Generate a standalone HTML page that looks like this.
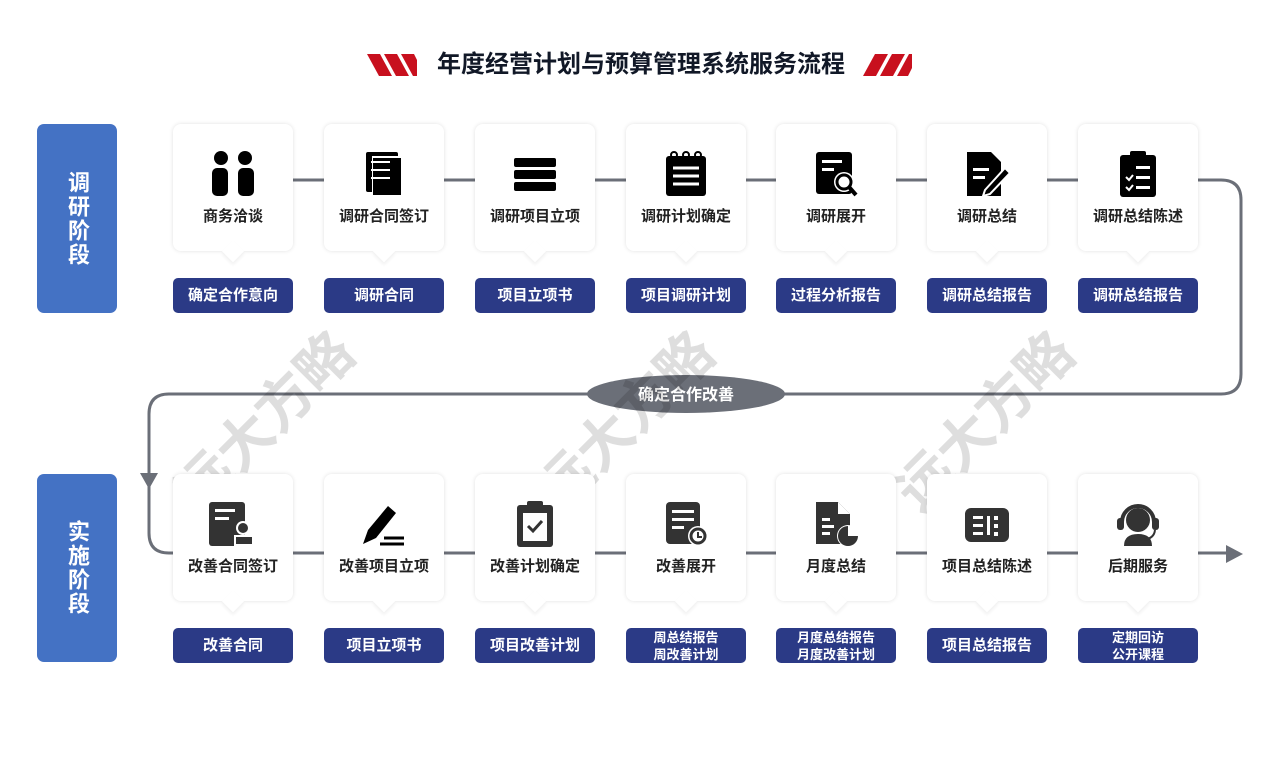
<!DOCTYPE html>
<html><head><meta charset="utf-8"><style>
*{margin:0;padding:0;box-sizing:border-box}
body{width:1280px;height:765px;background:#fff;position:relative;overflow:hidden;font-family:"Liberation Sans","Noto Sans CJK SC",sans-serif}
.abs{position:absolute}
.title{left:0;width:1280px;top:49px;text-align:center;font-size:24px;font-weight:bold;color:#111827;line-height:32px;padding-left:2px}
.stage{left:37px;width:80px;background:#4472c4;border-radius:7px;color:#fff;font-size:22px;font-weight:bold;display:flex;align-items:center;justify-content:center;writing-mode:vertical-rl;letter-spacing:2px}
.card{width:120px;height:127px;background:#fff;border-radius:8px;box-shadow:0 0 4px rgba(0,0,0,0.12)}
.card .lbl{position:absolute;left:0;right:0;top:81px;text-align:center;font-size:15px;font-weight:bold;color:#222}
.card .tip{position:absolute;left:52px;bottom:-8px;width:16px;height:16px;background:#fff;transform:rotate(45deg);box-shadow:2px 2px 3px rgba(0,0,0,0.06)}
.card svg{position:absolute;left:36px;top:26px}
.badge{width:120px;height:35px;background:#2b3a86;border-radius:5px;color:#fff;font-weight:bold;font-size:15px;display:flex;align-items:center;justify-content:center;text-align:center;line-height:17px}
.badge.sm{font-size:13px;line-height:17px}
.wm{font-size:56px;font-weight:bold;color:rgba(0,0,0,0.13);transform:rotate(-45deg);white-space:nowrap}
</style></head><body>

<svg class="abs" style="left:0;top:0" width="1280" height="765">
 <polygon points="367,54 380,54 392,76 379,76" fill="#c8101e"/>
 <polygon points="384,54 397,54 409,76 396,76" fill="#c8101e"/>
 <polygon points="401,54 414,54 417,60 417,76 413,76" fill="#c8101e"/>
 <polygon points="863,76 876,76 888,54 875,54" fill="#c8101e"/>
 <polygon points="880,76 893,76 905,54 892,54" fill="#c8101e"/>
 <polygon points="897,76 908,76 912,68 912,54 909,54" fill="#c8101e"/>
 <g stroke="#6b6f78" stroke-width="3" fill="none">
  <line x1="293" y1="180" x2="1198" y2="180"/>
  <path d="M1198,180 H1221 Q1241,180 1241,200 V374 Q1241,394 1221,394 H169 Q149,394 149,414 V533 Q149,553 169,553 H1230"/>
 </g>
 <polygon points="140,473 158,473 149,489" fill="#6b6f78"/>
 <polygon points="1226,545 1243,554 1226,563" fill="#6b6f78"/>
 <ellipse cx="686" cy="394" rx="99" ry="19" fill="#6b6f78"/>
 <text x="686" y="400" text-anchor="middle" font-size="16" font-weight="bold" fill="#fff" font-family="Liberation Sans,Noto Sans CJK SC,sans-serif">确定合作改善</text>
</svg>

<div class="abs title">年度经营计划与预算管理系统服务流程</div>
<div class="abs stage" style="top:124px;height:189px">调研阶段</div>
<div class="abs stage" style="top:474px;height:188px">实施阶段</div>

<div class="abs wm" style="left:150px;top:378px">远大方略</div>
<div class="abs wm" style="left:510px;top:378px">远大方略</div>
<div class="abs wm" style="left:870px;top:378px">远大方略</div>

<!-- top row -->
<div class="abs card" style="left:173px;top:124px"><svg width="48" height="48"><circle cx="12" cy="8" r="7"/><circle cx="36" cy="8" r="7"/><rect x="3" y="18" width="16" height="28" rx="5"/><rect x="29" y="18" width="16" height="28" rx="5"/></svg><div class="lbl">商务洽谈</div><div class="tip"></div></div>
<div class="abs card" style="left:324px;top:124px"><svg width="48" height="48"><rect x="6" y="2" width="32" height="40" rx="2"/><rect x="12" y="6" width="30" height="40" fill="#fff"/><rect x="13" y="8" width="28" height="37"/><g stroke="#fff" stroke-width="2"><line x1="11" y1="12" x2="30" y2="12"/><line x1="11" y1="20" x2="30" y2="20"/><line x1="11" y1="28" x2="30" y2="28"/></g></svg><div class="lbl">调研合同签订</div><div class="tip"></div></div>
<div class="abs card" style="left:475px;top:124px"><svg width="48" height="48"><rect x="3" y="8" width="42" height="9" rx="2"/><rect x="3" y="20" width="42" height="9" rx="2"/><rect x="3" y="32" width="42" height="9" rx="2"/></svg><div class="lbl">调研项目立项</div><div class="tip"></div></div>
<div class="abs card" style="left:626px;top:124px"><svg width="48" height="48"><rect x="4" y="6" width="40" height="40" rx="3"/><g stroke="#fff" stroke-width="3"><line x1="11" y1="18" x2="37" y2="18"/><line x1="11" y1="26" x2="37" y2="26"/><line x1="11" y1="34" x2="37" y2="34"/></g><circle cx="12" cy="5" r="3" fill="none" stroke="#000" stroke-width="2"/><circle cx="24" cy="5" r="3" fill="none" stroke="#000" stroke-width="2"/><circle cx="36" cy="5" r="3" fill="none" stroke="#000" stroke-width="2"/></svg><div class="lbl">调研计划确定</div><div class="tip"></div></div>
<div class="abs card" style="left:776px;top:124px"><svg width="48" height="48"><rect x="4" y="2" width="36" height="42" rx="3"/><circle cx="32" cy="32" r="10" fill="#fff"/><circle cx="32" cy="32" r="7" fill="none" stroke="#000" stroke-width="3"/><line x1="37" y1="37" x2="44" y2="45" stroke="#000" stroke-width="4"/><g fill="#fff"><rect x="10" y="10" width="20" height="3"/><rect x="10" y="18" width="12" height="3"/></g></svg><div class="lbl">调研展开</div><div class="tip"></div></div>
<div class="abs card" style="left:927px;top:124px"><svg width="48" height="48"><path d="M4,2 H28 L38,12 V46 H4 Z"/><g fill="#fff"><rect x="10" y="18" width="16" height="3"/><rect x="10" y="26" width="12" height="3"/></g><path d="M22,40 L42,18 L47,23 L27,44 L20,46 Z" fill="#000" stroke="#fff" stroke-width="2"/></svg><div class="lbl">调研总结</div><div class="tip"></div></div>
<div class="abs card" style="left:1078px;top:124px"><svg width="48" height="48"><rect x="6" y="5" width="36" height="42" rx="3"/><rect x="16" y="1" width="16" height="8" rx="2"/><g fill="#fff"><rect x="22" y="16" width="14" height="3"/><rect x="22" y="26" width="14" height="3"/><rect x="22" y="36" width="14" height="3"/></g><path d="M12,27 L15,30 L19,25 M12,37 L15,40 L19,35" stroke="#fff" stroke-width="2" fill="none"/></svg><div class="lbl">调研总结陈述</div><div class="tip"></div></div>

<div class="abs badge" style="left:173px;top:278px">确定合作意向</div>
<div class="abs badge" style="left:324px;top:278px">调研合同</div>
<div class="abs badge" style="left:475px;top:278px">项目立项书</div>
<div class="abs badge" style="left:626px;top:278px">项目调研计划</div>
<div class="abs badge" style="left:776px;top:278px">过程分析报告</div>
<div class="abs badge" style="left:927px;top:278px">调研总结报告</div>
<div class="abs badge" style="left:1078px;top:278px">调研总结报告</div>

<!-- bottom row -->
<div class="abs card" style="left:173px;top:474px"><svg width="48" height="48" fill="#333"><rect x="0" y="2" width="36" height="44" rx="3"/><g fill="#fff"><rect x="6" y="9" width="20" height="3"/><rect x="6" y="17" width="14" height="3"/></g><circle cx="34" cy="28" r="7" fill="#fff"/><circle cx="34" cy="28" r="5"/><rect x="26" y="36" width="18" height="9" fill="#333" stroke="#fff" stroke-width="2"/></svg><div class="lbl">改善合同签订</div><div class="tip"></div></div>
<div class="abs card" style="left:324px;top:474px"><svg width="48" height="48"><path d="M3,44 L8,30 L28,6 L36,13 L16,38 Z"/><g stroke="#000" stroke-width="3"><line x1="24" y1="38" x2="44" y2="38"/><line x1="20" y1="44" x2="44" y2="44"/></g></svg><div class="lbl">改善项目立项</div><div class="tip"></div></div>
<div class="abs card" style="left:475px;top:474px"><svg width="48" height="48" fill="#333"><rect x="6" y="5" width="36" height="42" rx="3"/><rect x="16" y="1" width="16" height="8" rx="2"/><rect x="12" y="13" width="24" height="28" fill="#fff"/><path d="M17,26 L22,31 L31,21" stroke="#333" stroke-width="3" fill="none"/></svg><div class="lbl">改善计划确定</div><div class="tip"></div></div>
<div class="abs card" style="left:626px;top:474px"><svg width="48" height="48" fill="#333"><rect x="4" y="2" width="34" height="42" rx="4"/><g fill="#fff"><rect x="10" y="10" width="22" height="3"/><rect x="10" y="18" width="22" height="3"/><rect x="10" y="26" width="12" height="3"/></g><circle cx="36" cy="36" r="10" fill="#fff"/><circle cx="36" cy="36" r="7" fill="none" stroke="#333" stroke-width="3"/><path d="M36,32 V37 H40" stroke="#333" stroke-width="2" fill="none"/></svg><div class="lbl">改善展开</div><div class="tip"></div></div>
<div class="abs card" style="left:776px;top:474px"><svg width="48" height="48" fill="#333"><path d="M4,2 H26 L38,14 V44 H4 Z"/><path d="M26,2 V14 H38" fill="#fff"/><g fill="#fff"><rect x="10" y="18" width="8" height="3"/><rect x="10" y="25" width="12" height="3"/><rect x="10" y="32" width="8" height="3"/></g><circle cx="36" cy="36" r="11" fill="#fff"/><path d="M36,36 V26 A10,10 0 1 0 46,36 Z"/></svg><div class="lbl">月度总结</div><div class="tip"></div></div>
<div class="abs card" style="left:927px;top:474px"><svg width="48" height="48" fill="#333"><rect x="2" y="8" width="44" height="34" rx="6"/><g fill="#fff"><rect x="10" y="16" width="10" height="3"/><rect x="10" y="24" width="10" height="3"/><rect x="10" y="32" width="10" height="3"/><rect x="24" y="16" width="3" height="19"/><rect x="31" y="16" width="4" height="4"/><rect x="31" y="24" width="4" height="4"/><rect x="31" y="32" width="4" height="4"/></g></svg><div class="lbl">项目总结陈述</div><div class="tip"></div></div>
<div class="abs card" style="left:1078px;top:474px"><svg width="48" height="48" fill="#333"><circle cx="24" cy="20" r="12"/><path d="M8,22 A16,16 0 0 1 40,22" fill="none" stroke="#333" stroke-width="4"/><rect x="3" y="18" width="7" height="12" rx="3"/><rect x="38" y="18" width="7" height="12" rx="3"/><path d="M10,46 Q10,34 24,34 Q38,34 38,46 Z"/><path d="M41,30 Q40,40 26,40" fill="none" stroke="#333" stroke-width="2"/></svg><div class="lbl">后期服务</div><div class="tip"></div></div>

<div class="abs badge" style="left:173px;top:628px">改善合同</div>
<div class="abs badge" style="left:324px;top:628px">项目立项书</div>
<div class="abs badge" style="left:475px;top:628px">项目改善计划</div>
<div class="abs badge sm" style="left:626px;top:628px">周总结报告<br>周改善计划</div>
<div class="abs badge sm" style="left:776px;top:628px">月度总结报告<br>月度改善计划</div>
<div class="abs badge" style="left:927px;top:628px">项目总结报告</div>
<div class="abs badge sm" style="left:1078px;top:628px">定期回访<br>公开课程</div>
</body></html>
